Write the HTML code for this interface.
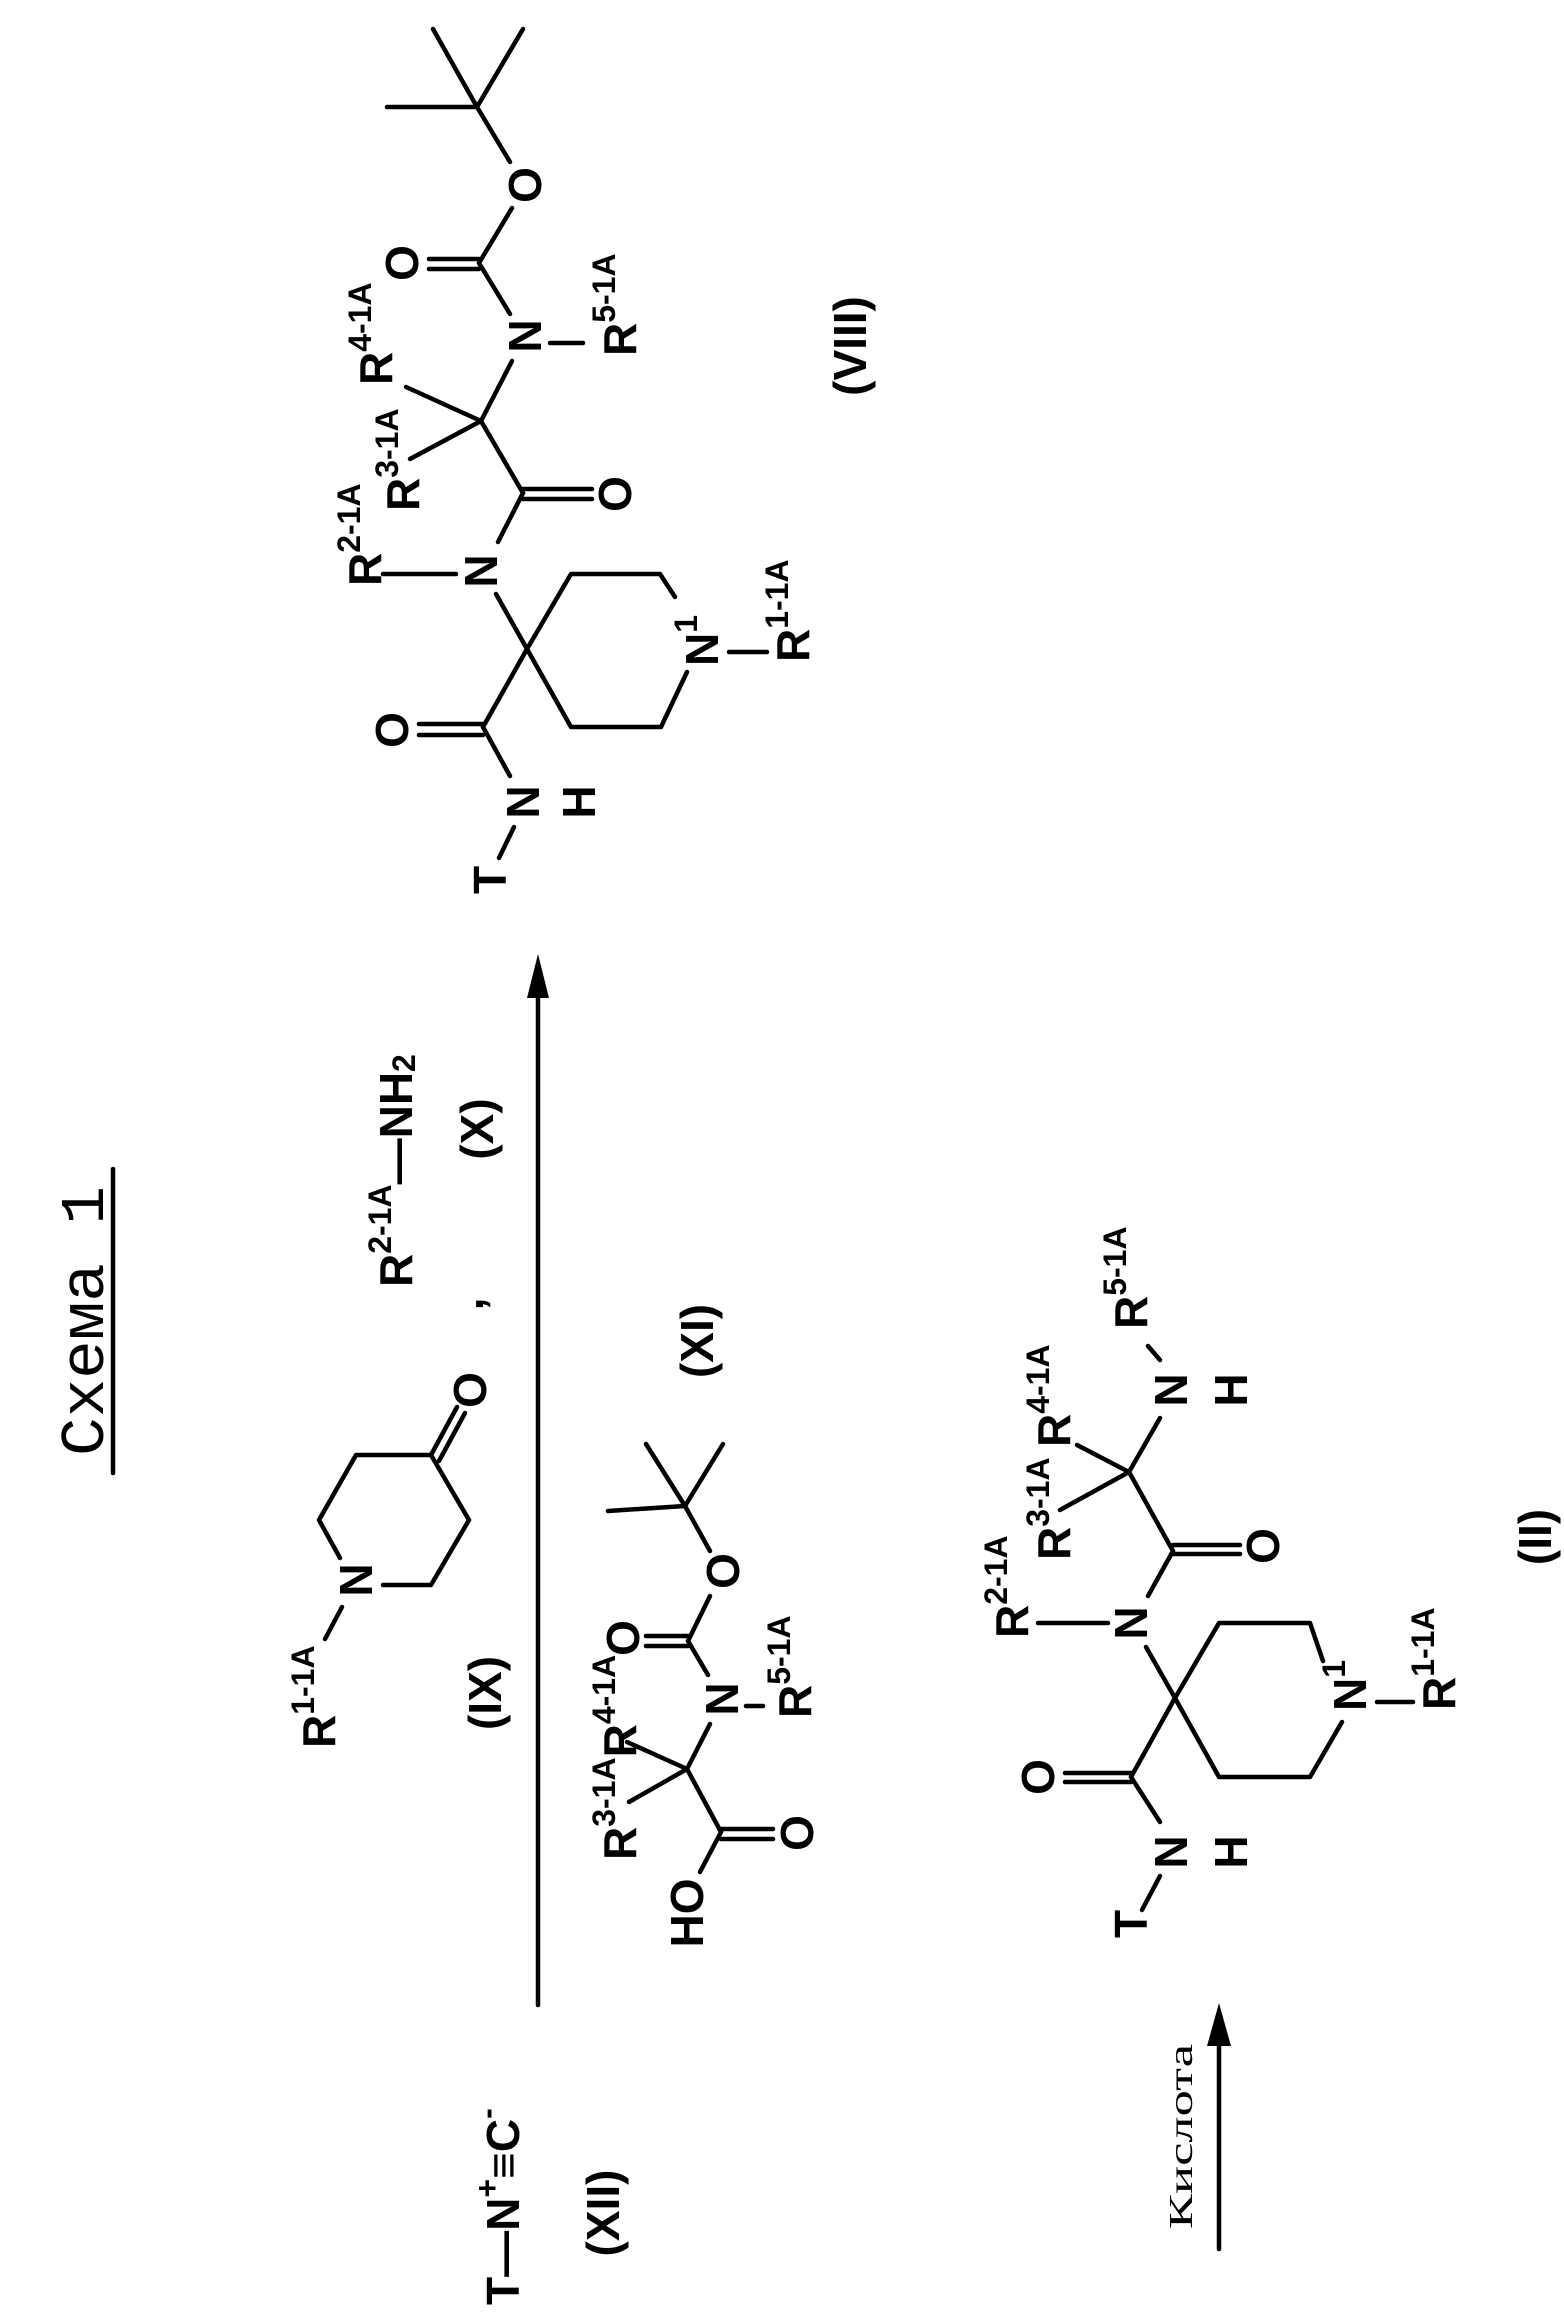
<!DOCTYPE html>
<html><head><meta charset="utf-8"><style>
html,body{margin:0;padding:0;background:#fff;}
svg{display:block;}
.b{font-family:"Liberation Sans",sans-serif;font-weight:bold;font-size:46px;fill:#000;}
.s{font-size:32px;}
line,polyline{stroke:#000;stroke-width:4.5;fill:none;stroke-linecap:round;stroke-linejoin:round;}
</style></head><body>
<svg width="1564" height="2318" viewBox="0 0 1564 2318" xmlns="http://www.w3.org/2000/svg">
<rect width="1564" height="2318" fill="#fff"/>

<!-- Title -->
<text transform="translate(103,1456) rotate(-90)" font-family="Liberation Mono, monospace" font-size="62" textLength="270" lengthAdjust="spacingAndGlyphs">Схема 1</text>
<line x1="113" y1="1169" x2="113" y2="1473" stroke-width="3"/>

<!-- ===== VIII ===== -->
<line x1="477" y1="107" x2="433" y2="29"/>
<line x1="477" y1="107" x2="523" y2="29"/>
<line x1="477" y1="107" x2="387" y2="107"/>
<line x1="477" y1="107" x2="510" y2="162"/>
<text class="b" text-anchor="middle" dominant-baseline="central" transform="translate(525,185) rotate(-90)">O</text>
<line x1="512" y1="208" x2="479" y2="263"/>
<line x1="479" y1="259" x2="429" y2="259"/>
<line x1="479" y1="269" x2="429" y2="269"/>
<text class="b" text-anchor="middle" dominant-baseline="central" transform="translate(402,263) rotate(-90)">O</text>
<line x1="479" y1="263" x2="510" y2="314"/>
<text class="b" text-anchor="middle" dominant-baseline="central" transform="translate(525,336) rotate(-90)">N</text>
<line x1="550" y1="343" x2="583" y2="343"/>
<text class="b" dominant-baseline="central" transform="translate(620,356) rotate(-90)">R<tspan class="s" dy="-16">5-1A</tspan></text>
<line x1="512" y1="361" x2="481" y2="421"/>
<line x1="481" y1="421" x2="410" y2="459"/>
<line x1="481" y1="421" x2="406" y2="387"/>
<text class="b" dominant-baseline="central" transform="translate(403,511) rotate(-90)">R<tspan class="s" dy="-16">3-1A</tspan></text>
<text class="b" dominant-baseline="central" transform="translate(376,385) rotate(-90)">R<tspan class="s" dy="-16">4-1A</tspan></text>
<line x1="481" y1="421" x2="523" y2="493"/>
<line x1="523" y1="489" x2="592" y2="489"/>
<line x1="523" y1="499" x2="592" y2="499"/>
<text class="b" text-anchor="middle" dominant-baseline="central" transform="translate(615,494) rotate(-90)">O</text>
<line x1="523" y1="493" x2="498" y2="542"/>
<text class="b" text-anchor="middle" dominant-baseline="central" transform="translate(481,571) rotate(-90)">N</text>
<line x1="383" y1="574" x2="456" y2="574"/>
<text class="b" dominant-baseline="central" transform="translate(365,586) rotate(-90)">R<tspan class="s" dy="-16">2-1A</tspan></text>
<line x1="496" y1="594" x2="527" y2="649"/>
<polyline points="527,649 571,574 660,574 675,597"/>
<polyline points="687,672 661,727 571,727 527,649"/>
<text class="b" dominant-baseline="central" transform="translate(702,666) rotate(-90)">N<tspan class="s" dy="-16">1</tspan></text>
<line x1="729" y1="652" x2="767" y2="652"/>
<text class="b" dominant-baseline="central" transform="translate(793,662) rotate(-90)">R<tspan class="s" dy="-16">1-1A</tspan></text>
<line x1="527" y1="649" x2="483" y2="727"/>
<line x1="483" y1="724" x2="419" y2="724"/>
<line x1="483" y1="735" x2="419" y2="735"/>
<text class="b" text-anchor="middle" dominant-baseline="central" transform="translate(392,730) rotate(-90)">O</text>
<line x1="483" y1="727" x2="510" y2="776"/>
<text class="b" text-anchor="middle" dominant-baseline="central" transform="translate(523,802) rotate(-90)">N</text>
<text class="b" text-anchor="middle" dominant-baseline="central" transform="translate(579,802) rotate(-90)">H</text>
<line x1="499" y1="858" x2="514" y2="827"/>
<text class="b" text-anchor="middle" dominant-baseline="central" transform="translate(490,880) rotate(-90)">T</text>
<text class="b" font-size="42" text-anchor="middle" dominant-baseline="central" transform="translate(850,346) rotate(-90)">(VIII)</text>

<!-- main arrow -->
<line x1="538" y1="2005" x2="538" y2="995" stroke-width="4"/>
<polygon points="538,954 527,998 549,998" fill="#000"/>

<!-- ===== IX ===== -->
<text class="b" text-anchor="middle" dominant-baseline="central" transform="translate(356,1580) rotate(-90)">N</text>
<polyline points="340,1558 319,1520 356,1455 431,1455 469,1520 431,1585 383,1585"/>
<line x1="431" y1="1455" x2="457" y2="1407"/>
<line x1="439" y1="1461" x2="465" y2="1413"/>
<text class="b" text-anchor="middle" dominant-baseline="central" transform="translate(470,1390) rotate(-90)">O</text>
<line x1="342" y1="1607" x2="325" y2="1639"/>
<text class="b" dominant-baseline="central" transform="translate(319,1748) rotate(-90)">R<tspan class="s" dy="-16">1-1A</tspan></text>
<text class="b" font-size="42" text-anchor="middle" dominant-baseline="central" transform="translate(485,1693) rotate(-90)">(IX)</text>

<!-- ===== X ===== -->
<text class="b" dominant-baseline="central" transform="translate(396,1287) rotate(-90)">R<tspan class="s" dy="-16">2-1A</tspan><tspan dy="16">—NH</tspan><tspan class="s" dy="8">2</tspan></text>
<text class="b" font-size="42" text-anchor="middle" dominant-baseline="central" transform="translate(477,1129) rotate(-90)">(X)</text>
<text class="b" text-anchor="middle" dominant-baseline="central" transform="translate(467,1304) rotate(-90)">,</text>

<!-- ===== XI ===== -->
<line x1="685" y1="1506" x2="646" y2="1444"/>
<line x1="685" y1="1506" x2="723" y2="1444"/>
<line x1="685" y1="1506" x2="608" y2="1511"/>
<line x1="685" y1="1506" x2="710" y2="1551"/>
<text class="b" text-anchor="middle" dominant-baseline="central" transform="translate(723,1571) rotate(-90)">O</text>
<line x1="710" y1="1596" x2="688" y2="1641"/>
<line x1="688" y1="1636" x2="646" y2="1636"/>
<line x1="688" y1="1646" x2="646" y2="1646"/>
<text class="b" text-anchor="middle" dominant-baseline="central" transform="translate(623,1638) rotate(-90)">O</text>
<line x1="688" y1="1641" x2="708" y2="1675"/>
<text class="b" text-anchor="middle" dominant-baseline="central" transform="translate(722,1699) rotate(-90)">N</text>
<line x1="746" y1="1706" x2="763" y2="1706"/>
<text class="b" dominant-baseline="central" transform="translate(795,1718) rotate(-90)">R<tspan class="s" dy="-16">5-1A</tspan></text>
<line x1="710" y1="1724" x2="687" y2="1769"/>
<line x1="687" y1="1769" x2="627" y2="1742"/>
<line x1="687" y1="1769" x2="629" y2="1802"/>
<text class="b" dominant-baseline="central" transform="translate(620,1860) rotate(-90)">R<tspan class="s" dy="-16">3-1A</tspan><tspan dy="16">R</tspan><tspan class="s" dy="-16">4-1A</tspan></text>
<line x1="687" y1="1769" x2="721" y2="1832"/>
<line x1="721" y1="1829" x2="773" y2="1829"/>
<line x1="721" y1="1839" x2="773" y2="1839"/>
<text class="b" text-anchor="middle" dominant-baseline="central" transform="translate(797,1833) rotate(-90)">O</text>
<line x1="721" y1="1832" x2="700" y2="1872"/>
<text class="b" text-anchor="middle" dominant-baseline="central" transform="translate(687,1913) rotate(-90)">HO</text>
<text class="b" font-size="42" text-anchor="middle" dominant-baseline="central" transform="translate(697,1341) rotate(-90)">(XI)</text>

<!-- ===== XII ===== -->
<text class="b" dominant-baseline="central" transform="translate(503,2305) rotate(-90)">T—N<tspan class="s" dy="-16">+</tspan><tspan dy="16">≡C</tspan><tspan class="s" dy="-16">-</tspan></text>
<text class="b" font-size="42" text-anchor="middle" dominant-baseline="central" transform="translate(603,2213) rotate(-90)">(XII)</text>

<!-- ===== II ===== -->
<text class="b" text-anchor="middle" dominant-baseline="central" transform="translate(1131,1924) rotate(-90)">T</text>
<line x1="1142" y1="1910" x2="1160" y2="1876"/>
<text class="b" text-anchor="middle" dominant-baseline="central" transform="translate(1171,1852) rotate(-90)">N</text>
<text class="b" text-anchor="middle" dominant-baseline="central" transform="translate(1231,1852) rotate(-90)">H</text>
<line x1="1160" y1="1822" x2="1131" y2="1777"/>
<line x1="1131" y1="1773" x2="1065" y2="1773"/>
<line x1="1131" y1="1782" x2="1065" y2="1782"/>
<text class="b" text-anchor="middle" dominant-baseline="central" transform="translate(1038,1777) rotate(-90)">O</text>
<line x1="1131" y1="1777" x2="1175" y2="1698"/>
<polyline points="1175,1698 1219,1623 1310,1623 1323,1661"/>
<polyline points="1342,1722 1310,1777 1219,1777 1175,1698"/>
<text class="b" dominant-baseline="central" transform="translate(1350,1711) rotate(-90)">N<tspan class="s" dy="-16">1</tspan></text>
<line x1="1377" y1="1702" x2="1413" y2="1702"/>
<text class="b" dominant-baseline="central" transform="translate(1439,1710) rotate(-90)">R<tspan class="s" dy="-16">1-1A</tspan></text>
<line x1="1175" y1="1698" x2="1146" y2="1647"/>
<text class="b" text-anchor="middle" dominant-baseline="central" transform="translate(1131,1623) rotate(-90)">N</text>
<line x1="1108" y1="1623" x2="1038" y2="1623"/>
<text class="b" dominant-baseline="central" transform="translate(1012,1638) rotate(-90)">R<tspan class="s" dy="-16">2-1A</tspan></text>
<line x1="1148" y1="1596" x2="1173" y2="1551"/>
<line x1="1173" y1="1545" x2="1240" y2="1545"/>
<line x1="1173" y1="1554" x2="1240" y2="1554"/>
<text class="b" text-anchor="middle" dominant-baseline="central" transform="translate(1263,1546) rotate(-90)">O</text>
<line x1="1173" y1="1551" x2="1129" y2="1472"/>
<line x1="1129" y1="1472" x2="1060" y2="1510"/>
<line x1="1129" y1="1472" x2="1077" y2="1445"/>
<text class="b" dominant-baseline="central" transform="translate(1054,1560) rotate(-90)">R<tspan class="s" dy="-16">3-1A</tspan></text>
<text class="b" dominant-baseline="central" transform="translate(1054,1447) rotate(-90)">R<tspan class="s" dy="-16">4-1A</tspan></text>
<line x1="1129" y1="1472" x2="1160" y2="1418"/>
<text class="b" text-anchor="middle" dominant-baseline="central" transform="translate(1171,1390) rotate(-90)">N</text>
<text class="b" text-anchor="middle" dominant-baseline="central" transform="translate(1231,1390) rotate(-90)">H</text>
<line x1="1160" y1="1360" x2="1148" y2="1346"/>
<text class="b" dominant-baseline="central" transform="translate(1131,1329) rotate(-90)">R<tspan class="s" dy="-16">5-1A</tspan></text>
<text class="b" font-size="42" text-anchor="middle" dominant-baseline="central" transform="translate(1535,1537) rotate(-90)">(II)</text>

<!-- acid arrow -->
<line x1="1219" y1="2249" x2="1219" y2="2040" stroke-width="6"/>
<polygon points="1219,2003 1207,2046 1231,2046" fill="#000"/>
<text transform="translate(1192,2229) rotate(-90)" font-family="Liberation Serif, serif" font-size="34" textLength="185" lengthAdjust="spacingAndGlyphs">Кислота</text>
</svg>
</body></html>
